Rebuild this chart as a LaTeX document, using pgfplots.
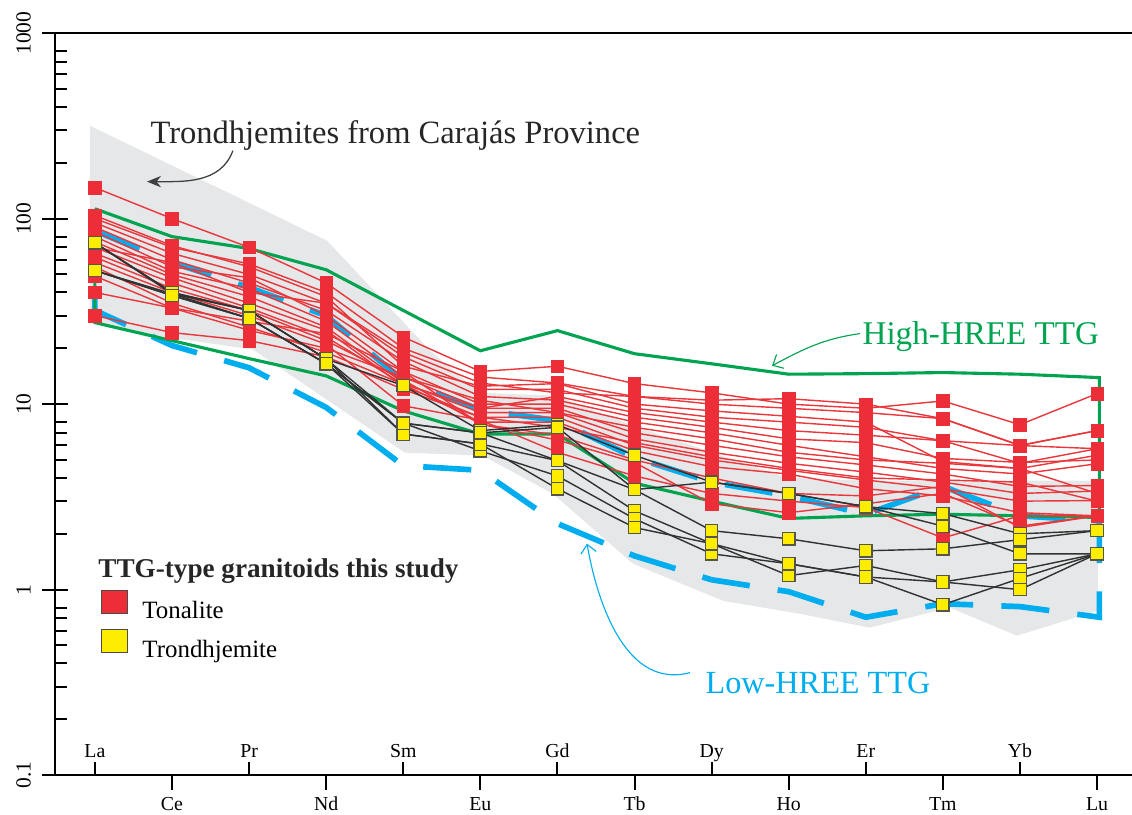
\documentclass[border=0pt]{standalone}
\usepackage{pgfplots}
\usepackage{pgfplotstable}
\pgfplotsset{compat=1.18}
\usepackage{fontspec}
\setmainfont{Liberation Serif}
\usetikzlibrary{arrows.meta}

\definecolor{tonred}{RGB}{236,46,56}
\definecolor{tonline}{RGB}{233,55,60}
\definecolor{troyel}{RGB}{255,237,0}
\definecolor{troedge}{RGB}{85,85,75}
\definecolor{trolin}{RGB}{50,50,50}
\definecolor{hgreen}{RGB}{0,163,80}
\definecolor{lblue}{RGB}{0,174,239}
\definecolor{envgray}{RGB}{230,231,232}

% Tonalite samples (chondrite-normalised), x = 0 (La) ... 13 (Lu)
\pgfplotstableread{
x   R1    R2   R3   R4   R5   R6   R7   R8   R9   R10  R11  R12  R13  R14  R15  R16  R17
0   147   100  95   90   85   80   75   70   65   62   58   55   40   30   104  70   49
1   100   70   65   60   55   52   50   48   45   42   40   35   33   24.3 71.5 58   33
2   70    57   50   45   48   42   38   35   33   32   30   26   25   22   55   40   28
3   45    40   35   32   30   28   26   25   23   22   21   19   20   18   38   35   24
4   23    20   18   17   15   14   13   12.5 12.8 13.5 9.8  12.8 14   12   16   19   15
5   15    14   12   11   10   9.5  9    8.5  8    7.8  8.2  9.5  10.5 8.5  12.5 13   7.8
6   16    13   12   10.5 10   9.5  9    8.5  8    6.8  5.5  11   9    7.5  12.9 11.5 6.4
7   12.9  11   9.5  8.5  8    7    6.5  6    5.6  5.0  4.1  9    7.5  6.2  10   11   4.85
8   11.5  10   8.5  7.5  7    6    5.5  5    4.6  4.0  3.3  8    6.5  5.2  9.2  10.5 2.9
9   10    9.5  8    6.5  6    5.2  4.8  4.4  4.2  3.3  3.0  7.2  5.5  4.5  8.6  10.7 2.6
10  9.5   9    7.5  6.2  5.2  4.7  4.3  3.9  3.5  3.2  2.77 6.8  5    4.0  8.0  10   2.9
11  10.4  8.35 6.35 5.1  4.5  4.2  3.8  3.5  3.2  3.6  1.9  6.35 4.8  3.9  4.9  8.35 3.3
12  7.75  6    4.8  4.85 4.2  3.6  3.3  3.0  2.6  2.16 2.5  5.98 4.5  3.8  4.5  5.98 2.2
13  11.4  7.2  5.75 5.0  4.77 3.64 3.4  3.02 2.5  2.5  2.5  7.2  5.3  3.0  3.3  5.75 2.5
}\reddata

% Trondhjemite samples
\pgfplotstableread{
x  B1   B2   B3   B4   B5   B6
0  74   74   52.5 52.5 74   52.5
1  40   39.4 39.4 38.5 40   38.5
2  32   32   29   29   32   29
3  17.5 17.5 16.5 16.5 17.5 16.5
4  12.6 7.9  6.9  7.9  6.9  7.9
5  7.2  7.0  6.1  5.6  6.1  7.0
6  7.75 7.5  4.96 4.1  3.5  4.96
7  5.3  3.46 2.66 2.41 2.16 3.46
8  3.8  2.08 1.77 1.56 1.77 3.8
9  3.3  1.88 1.19 1.38 1.38 3.3
10 2.8  1.62 1.35 1.17 1.17 2.8
11 2.57 1.66 1.1  0.83 1.1  2.2
12 2.0  1.86 1.28 1.15 1.0  1.56
13 2.08 2.08 1.56 1.56 1.56 1.56
}\blackdata

\begin{document}
\begin{tikzpicture}
\useasboundingbox (-19.4pt,-13.8pt) rectangle (380.6pt,273.9pt);
\begin{axis}[scale only axis, width=380.6pt, height=262.2pt,
  at={(0,0)}, anchor=south west,
  xmin=-0.519, xmax=13.453, ymin=0.1, ymax=1000, ymode=log,
  axis x line*=box, axis y line*=left,
  axis line style={line width=0.7pt, black},
  xtick=\empty,
  ytick={0.1,1,10,100,1000}, yticklabels={0.1,1,10,100,1000},
  minor ytick={0.2,0.3,0.4,0.5,0.6,0.7,0.8,2,3,4,5,6,7,8,20,30,40,50,60,70,80,200,300,400,500,600,700,800},
  tick align=inside, major tick length=9.2pt, minor tick length=4.2pt,
  major tick style={line width=0.7pt, black, xshift=-4.6pt},
  minor tick style={line width=0.7pt, black},
  yticklabel style={font=\fontsize{7.6}{9}\selectfont, xshift=-8.6pt, rotate=90, anchor=base, inner sep=0pt},
  legend style={at={(rel axis cs:0.0427,0.2507)}, anchor=north west, draw=none, fill=none,
    inner sep=0pt, font=\fontsize{8.8}{10}\selectfont, row sep=1.6pt,
    nodes={inner ysep=0.5pt}},
  legend cell align=left,
  legend image code/.code={\draw[#1] (0pt,-0.3pt) rectangle (9.2pt,7.8pt); \path (12.2pt,0pt);},
]
\addlegendimage{fill=tonred, draw=gray!60!black, line width=0.3pt}
\addlegendentry{Tonalite}
\addlegendimage{fill=troyel, draw=gray!60!black, line width=0.3pt}
\addlegendentry{Trondhjemite}

% Envelope: Trondhjemites from Carajas Province
\addplot[fill=envgray, draw=none, forget plot] coordinates {
 (-0.065,317) (3.01,76.1) (4.35,19.4) (4.99,11.5) (5.99,11.1) (6.98,7.66)
 (8.98,4.01) (9.99,3.87) (13.01,3.87) (13.01,0.77) (11.96,0.565) (11.09,0.80)
 (10.05,0.624) (9.15,0.74) (8.15,0.87) (6.98,1.38) (5.94,3.29) (5.03,5.28)
 (4.02,5.48) (2.05,19.7) (0.97,22.8) (-0.065,27.5) } -- cycle;

% Low-HREE TTG (dashed blue envelope)
\addplot[lblue, line width=2pt, dash pattern=on 17pt off 10pt, forget plot] coordinates {
 (0,86) (1,58) (2,42.5) (3,30) (4,13.4) (5,9.3) (6,8.15) (7,5.15) (8,3.8) (9,3.2)
 (10,2.55) (11,3.6) (12,2.5) (13.03,2.35)
 (13.03,0.71) (12,0.81) (11,0.84) (10,0.71) (9,0.975) (8,1.13) (7,1.52) (6,2.27)
 (5,4.4) (4,4.66) (3,9.6) (2,15.7) (1,20.7) (0,32) (0,86) };

% High-HREE TTG (green envelope)
\addplot[hgreen, line width=1.1pt, forget plot] coordinates {
 (0,113) (1,80) (2,69) (3,53) (4,32) (5,19.4) (6,24.9) (7,18.7) (8,16.5) (9,14.5)
 (10,14.6) (11,14.8) (12,14.5) (13.03,13.9)
 (13.03,2.45) (12,2.5) (11,2.55) (10,2.5) (9,2.42) (8,3.0) (7,3.75) (6,6.9)
 (5,6.9) (4,9.2) (3,14.2) (2,17.6) (1,22) (0,27.5) (0,113) };

% Tonalite sample lines
\pgfplotsinvokeforeach{1,...,17}{
  \addplot[color=tonline, line width=0.5pt, no marks, forget plot]
    table[x=x, y=R#1] {\reddata};
}
% Trondhjemite sample lines
\pgfplotsinvokeforeach{1,...,6}{
  \addplot[color=trolin, line width=0.5pt, no marks, forget plot]
    table[x=x, y=B#1] {\blackdata};
}
% Tonalite symbols
\pgfplotsinvokeforeach{1,...,17}{
  \addplot[only marks, mark=square*, mark size=2.2pt,
    mark options={fill=tonred, draw=tonred, line width=0.2pt, solid}, forget plot]
    table[x=x, y=R#1] {\reddata};
}
% Trondhjemite symbols
\pgfplotsinvokeforeach{1,...,6}{
  \addplot[only marks, mark=square*, mark size=2.2pt,
    mark options={fill=troyel, draw=troedge, line width=0.45pt, solid}, forget plot]
    table[x=x, y=B#1] {\blackdata};
}

% Annotations
\node[anchor=base west, inner sep=0pt, font=\fontsize{11.5}{13}\selectfont, text=black!85] at (axis cs:0.714,253.7)
  {Trondhjemites from Carajás Province};
\draw[black!75, line width=0.45pt, -{Stealth[length=5pt,width=4pt]}]
  (axis cs:1.79,232.6) to[out=250, in=0] (axis cs:0.675,158.3);

\node[anchor=base west, inner sep=0pt, font=\fontsize{11.7}{13}\selectfont, text=hgreen] at (axis cs:9.951,20.9)
  {High-HREE TTG};
\draw[hgreen, line width=0.4pt, -{Straight Barb[length=3pt,width=5.5pt]}]
  (axis cs:9.925,24.0) to[out=188, in=28] (axis cs:8.783,16.1);

\node[anchor=base west, inner sep=0pt, font=\fontsize{11.4}{13}\selectfont, text=lblue] at (axis cs:7.914,0.275)
  {Low-HREE TTG};
\draw[lblue, line width=0.4pt, -{Straight Barb[length=3pt,width=5.5pt]}]
  (axis cs:7.72,0.357) to[out=195, in=-80] (axis cs:6.383,1.77);

\node[anchor=base west, inner sep=0pt, font=\bfseries\fontsize{9.6}{11}\selectfont, text=black!85] at (axis cs:0.039,1.16)
  {TTG-type granitoids this study};
\end{axis}

% Odd REE ticks (labels inside, above the axis)
\begin{axis}[scale only axis, width=380.6pt, height=262.2pt,
  at={(0,0)}, anchor=south west,
  xmin=-0.519, xmax=13.453, ymin=0.1, ymax=1000, ymode=log,
  axis x line*=bottom, axis y line=none, x axis line style={draw=none},
  xtick={0,2,4,6,8,10,12}, xticklabels={La,Pr,Sm,Gd,Dy,Er,Yb},
  tick align=inside, major tick length=4.6pt,
  major tick style={line width=0.7pt, black},
  xticklabel style={font=\fontsize{7}{8}\selectfont, anchor=base, yshift=6.4pt, inner sep=0pt}]
\end{axis}

% Even REE ticks (labels below the axis)
\begin{axis}[scale only axis, width=380.6pt, height=262.2pt,
  at={(0,0)}, anchor=south west,
  xmin=-0.519, xmax=13.453, ymin=0.1, ymax=1000, ymode=log,
  axis x line*=bottom, axis y line=none, x axis line style={draw=none},
  xtick={1,3,5,7,9,11,13}, xticklabels={Ce,Nd,Eu,Tb,Ho,Tm,Lu},
  tick align=outside, major tick length=5.3pt,
  major tick style={line width=0.7pt, black},
  xticklabel style={font=\fontsize{7}{8}\selectfont, anchor=base, yshift=-7.1pt, inner sep=0pt}]
\end{axis}
\end{tikzpicture}
\end{document}
